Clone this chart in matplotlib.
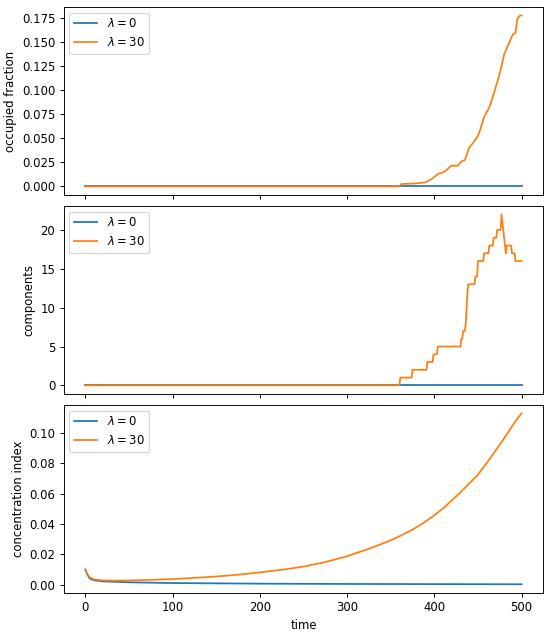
import numpy as np
import matplotlib
matplotlib.use("Agg")
import matplotlib.pyplot as plt
from matplotlib.ticker import MultipleLocator

# valores
t_ini = [0, 500]
cero = [0, 0]

occ_t = [0, 360, 362, 377, 390, 397, 404, 410, 414, 419, 427, 431, 435, 440, 445,
         450, 453, 457, 463, 468, 473, 477, 480, 485, 490, 493, 495, 498, 500]
occ_v = [0, 0, 0.0025, 0.003, 0.0042, 0.0077, 0.0129, 0.0146, 0.017, 0.0215, 0.0215,
         0.026, 0.0274, 0.0405, 0.046, 0.0527, 0.06, 0.0725, 0.0822, 0.096, 0.1116,
         0.125, 0.1376, 0.148, 0.1584, 0.16, 0.174, 0.178, 0.178]

comp_t = [0, 360, 361, 374, 375, 391, 392, 398, 399, 403, 404, 430, 431, 432, 433,
          435, 436, 437, 438, 439, 446, 447, 449, 450, 456, 457, 462, 463, 467, 468,
          471, 472, 476, 477, 482, 483, 488, 489, 492, 493, 500]
comp_v = [0, 0, 1, 1, 2, 2, 3, 3, 4, 4, 5, 5, 6, 6, 7,
          7, 8, 10, 12, 13, 13, 14, 14, 16, 16, 17, 17, 18, 18, 19,
          19, 20, 20, 22, 17, 18, 18, 17, 17, 16, 16]

conc_t0 = [0, 2, 5, 10, 20, 50, 100, 200, 300, 400, 500]
conc_v0 = [0.0101, 0.007, 0.0042, 0.003, 0.0023, 0.0017, 0.0012, 0.0008, 0.0006,
           0.0005, 0.0004]

conc_t30 = [0, 2, 5, 10, 20, 35, 50, 75, 100, 125, 150, 175, 200, 225, 250, 275,
            300, 312, 325, 337, 350, 362, 375, 387, 400, 412, 420, 430, 438, 445,
            450, 458, 465, 476, 482, 490, 495, 500]
conc_v30 = [0.0101, 0.0075, 0.005, 0.0036, 0.0029, 0.0028, 0.0029, 0.0033, 0.0038,
            0.0046, 0.0055, 0.0067, 0.0082, 0.0099, 0.012, 0.015, 0.0188, 0.0212,
            0.0237, 0.0263, 0.0293, 0.0325, 0.0363, 0.0405, 0.0457, 0.0512, 0.0555,
            0.0608, 0.0655, 0.0695, 0.0725, 0.0785, 0.084, 0.093, 0.098, 0.105,
            0.109, 0.1127]

etiquetas = [r'$\lambda=0$', r'$\lambda=30$']

fig, axs = plt.subplots(3, 1, sharex=True, figsize=(550 / 84, 632 / 84), dpi=84)
plt.subplots_adjust(left=0.1155, right=0.988, top=0.989, bottom=0.062, hspace=0.058)

# Primera gráfica: fracción ocupada
axs[0].plot(t_ini, cero, label=etiquetas[0])
axs[0].plot(occ_t, occ_v, label=etiquetas[1])
axs[0].set_ylabel('occupied fraction')
axs[0].yaxis.set_major_locator(MultipleLocator(0.025))
axs[0].legend(loc='upper left')

# Segunda gráfica: componentes
axs[1].plot(t_ini, cero, label=etiquetas[0])
axs[1].plot(comp_t, comp_v, label=etiquetas[1])
axs[1].set_ylabel('components')
axs[1].yaxis.set_major_locator(MultipleLocator(5))
axs[1].legend(loc='upper left')

# Tercera gráfica: índice de concentración
axs[2].plot(conc_t0, conc_v0, label=etiquetas[0])
axs[2].plot(conc_t30, conc_v30, label=etiquetas[1])
axs[2].set_ylabel('concentration index')
axs[2].set_xlabel('time')
axs[2].yaxis.set_major_locator(MultipleLocator(0.02))
axs[2].legend(loc='upper left')

fig.savefig('out.png', dpi=84)
